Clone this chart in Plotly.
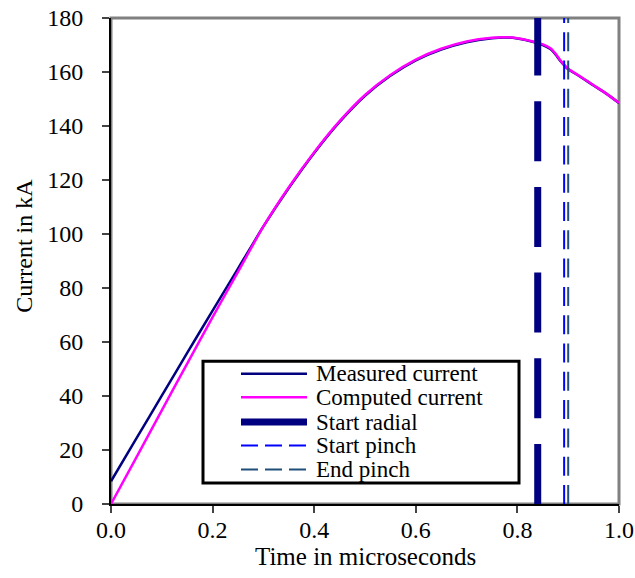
import plotly.graph_objects as go

# ---- data ----
t_meas = [0.0, 0.05, 0.1, 0.15, 0.2, 0.25, 0.3, 0.35, 0.4, 0.45, 0.5, 0.55, 0.6, 0.65, 0.7,
          0.75, 0.775, 0.8, 0.83, 0.85, 0.865, 0.875, 0.885, 0.9, 0.92, 0.95, 0.975, 1.0]
i_meas = [8.4, 24.3, 40.1, 56.0, 71.6, 87.2, 102.8, 117.0, 130.0, 141.5, 151.2, 158.6, 164.3, 168.3, 171.0,
          172.5, 172.8, 172.4, 171.2, 170.0, 168.5, 166.5, 164.0, 161.0, 158.7, 155.0, 152.0, 148.5]
t_comp = [0.0, 0.05, 0.1, 0.15, 0.2, 0.25, 0.3, 0.35, 0.4, 0.45, 0.5, 0.55, 0.6, 0.65, 0.7,
          0.75, 0.775, 0.8, 0.83, 0.85, 0.865, 0.875, 0.885, 0.9, 0.92, 0.95, 0.975, 1.0]
i_comp = [0.0, 17.3, 34.7, 52.0, 69.2, 86.0, 102.8, 117.3, 130.3, 141.8, 151.5, 158.9, 164.6, 168.6, 171.3,
          172.7, 172.9, 172.5, 171.3, 170.2, 168.8, 166.8, 164.2, 161.2, 158.8, 155.1, 152.0, 148.6]
t_start_radial = 0.84
t_start_pinch = 0.892
t_end_pinch = 0.90
y_span = [0, 180]

legend_labels = ["Measured current", "Computed current", "Start radial", "Start pinch", "End pinch"]
x_title = "Time in microseconds"
y_title = "Current in kA"
x_ticks = [0.0, 0.2, 0.4, 0.6, 0.8, 1.0]
y_ticks = [0, 20, 40, 60, 80, 100, 120, 140, 160, 180]

FONT = "Liberation Serif, Times New Roman, serif"
styles = [
    dict(color="#000080", width=2.5),
    dict(color="#ff00ff", width=2.5),
    dict(color="#000080", width=7, dash="60px,25.7px"),
    dict(color="#0000ff", width=2, dash="19px,9.3px"),
    dict(color="#1f4e79", width=2, dash="19px,9.3px"),
]

fig = go.Figure()
fig.add_trace(go.Scatter(x=t_meas, y=i_meas, mode="lines", name=legend_labels[0],
                         line=dict(styles[0], shape="spline", smoothing=0.6), showlegend=False))
fig.add_trace(go.Scatter(x=t_comp, y=i_comp, mode="lines", name=legend_labels[1],
                         line=dict(styles[1], shape="spline", smoothing=0.6), showlegend=False))
for tv, lab, st in zip([t_start_radial, t_start_pinch, t_end_pinch], legend_labels[2:], styles[2:]):
    fig.add_trace(go.Scatter(x=[tv, tv], y=y_span, mode="lines", name=lab, line=st,
                             showlegend=False, cliponaxis=False))

# layout geometry (pixels)
W, H = 635, 578
PL, PR, PT, PB = 111, 619, 18, 504.5
def px(x):
    return (x - PL) / (PR - PL)
def py(y):
    return (PB - y) / (PB - PT)

# plot frame: grey top/right
fig.add_shape(type="rect", xref="paper", yref="paper", x0=0, x1=1, y0=0, y1=1,
              line=dict(color="#808080", width=3), layer="below")

# custom legend (box + sample lines + labels)
L, R, T, B = 203, 519, 361.5, 483.5
fig.add_shape(type="rect", xref="paper", yref="paper", x0=px(L), x1=px(R), y0=py(B), y1=py(T),
              line=dict(color="black", width=3), fillcolor="white", layer="above")
row_y = [374, 397.7, 422.5, 446, 470]
for yy, lab, st in zip(row_y, legend_labels, styles):
    dash = st.get("dash", "solid")
    if lab == "Start radial":
        dash = "solid"
    elif dash != "solid":
        dash = "17px,7px"
    fig.add_shape(type="line", xref="paper", yref="paper", x0=px(241), x1=px(307), y0=py(yy), y1=py(yy),
                  line=dict(color=st["color"], width=st["width"], dash=dash), layer="above")
    fig.add_annotation(xref="paper", yref="paper", x=px(314), y=py(yy), text=lab, showarrow=False,
                       xanchor="left", yanchor="middle", font=dict(family=FONT, size=23, color="black"))

# axis titles
fig.add_annotation(xref="paper", yref="paper", x=px(365), y=py(557), text=x_title, showarrow=False,
                   xanchor="center", yanchor="middle", font=dict(family=FONT, size=25, color="black"))
fig.add_annotation(xref="paper", yref="paper", x=px(24), y=py(246), text=y_title, showarrow=False,
                   textangle=-90, xanchor="center", yanchor="middle",
                   font=dict(family=FONT, size=24, color="black"))

fig.update_layout(
    width=W, height=H,
    margin=dict(l=PL, r=W - PR, t=PT, b=H - PB, pad=0),
    paper_bgcolor="white", plot_bgcolor="white",
    font=dict(family=FONT, size=24, color="black"),
    showlegend=False,
)
fig.update_xaxes(range=[0, 1], tickvals=x_ticks, tickformat=".1f", showgrid=False, zeroline=False,
                 showline=True, linecolor="black", linewidth=2, ticks="outside", ticklen=7,
                 tickcolor="#444", tickwidth=1.5, automargin=False, ticklabelstandoff=-4)
fig.update_yaxes(range=[0, 180], tickvals=y_ticks, showgrid=False, zeroline=False,
                 showline=True, linecolor="black", linewidth=2, ticks="outside", ticklen=7,
                 tickcolor="#444", tickwidth=1.5, ticklabelstandoff=14, automargin=False)

fig.write_html("out.html")
